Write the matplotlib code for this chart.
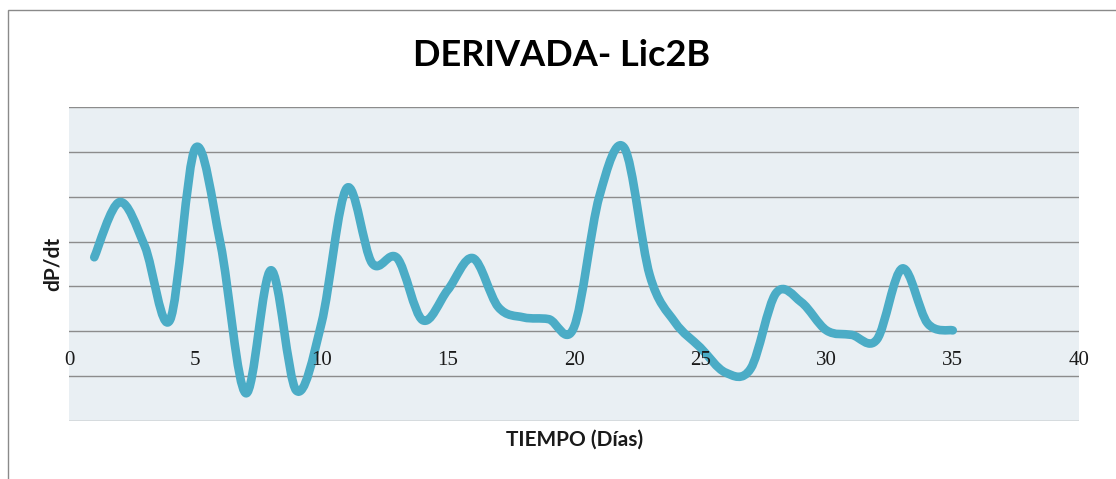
import numpy as np
import matplotlib
matplotlib.use("Agg")
import matplotlib.pyplot as plt
from matplotlib.path import Path
from matplotlib.patches import PathPatch, Rectangle

LINE = "#4BACC6"
PLOT_BG = "#E9EFF3"
GRID = "#8C8C8C"

# derivative series, one point per day
dias = list(range(1, 36))
dpdt = [1.65, 2.88, 1.9, 0.25, 4.08, 1.95, -1.38, 1.36, -1.32, 0.18,
        3.19, 1.52, 1.63, 0.25, 0.92, 1.63, 0.54, 0.31, 0.27, 0.09,
        3.0, 4.08, 1.25, 0.2, -0.36, -0.92, -0.83, 0.85, 0.65, 0.02,
        -0.08, -0.18, 1.4, 0.18, 0.02]
xticks = [0, 5, 10, 15, 20, 25, 30, 35, 40]


def smooth_path(x, y):
    # Catmull-Rom segments written as cubic Bezier curves (spreadsheet "smoothed line")
    p = np.column_stack([x, y]).astype(float)
    ext = np.vstack([p[0], p, p[-1]])
    verts, codes = [p[0]], [Path.MOVETO]
    for i in range(1, len(ext) - 2):
        p0, p1, p2, p3 = ext[i - 1], ext[i], ext[i + 1], ext[i + 2]
        verts += [p1 + (p2 - p0) / 6, p2 - (p3 - p1) / 6, p2]
        codes += [Path.CURVE4] * 3
    return Path(verts, codes)


fig = plt.figure(figsize=(11.16, 4.79), dpi=100)
fig.patches.append(Rectangle((8 / 1116, -0.1), 1.2, 1.1 - 10 / 479,
                             transform=fig.transFigure, fill=False,
                             edgecolor="#8a8a8a", lw=1.0))

ax = fig.add_axes([69 / 1116, 58 / 479, 1010 / 1116, 314 / 479])
ax.set_facecolor(PLOT_BG)
ax.set_xlim(0, 40)
ax.set_ylim(-2, 5)
for v in range(-2, 6):
    ax.axhline(v, color=GRID, lw=1.0, zorder=1)

ax.add_patch(PathPatch(smooth_path(dias, dpdt), fill=False, edgecolor=LINE,
                       lw=6.2, capstyle="round", joinstyle="round", zorder=3))

for s in ax.spines.values():
    s.set_visible(False)
ax.spines["bottom"].set_position(("data", 0))
ax.set_yticks([])
ax.set_xticks(xticks)
ax.set_xticklabels([str(t) for t in xticks], family="Liberation Serif",
                   fontsize=15, color="#1a1a1a")
ax.tick_params(axis="x", length=0, pad=14)
ax.xaxis.set_zorder(5)  # day labels sit on top of the curve

fig.text(562 / 1116, 1 - 55 / 479, "DERIVADA- Lic2B", ha="center", va="center",
         family="Lato", fontweight="bold", fontsize=26)
fig.text(575 / 1116, 1 - 440 / 479, "TIEMPO (Días)", ha="center", va="center",
         family="Lato", fontweight="bold", fontsize=15, color="#1a1a1a")
fig.text(53 / 1116, 1 - 264 / 479, "dP/dt", ha="center", va="center",
         rotation=90, family="Lato", fontweight="bold", fontsize=15,
         color="#1a1a1a")

fig.savefig("out.png", dpi=100, facecolor="white")
